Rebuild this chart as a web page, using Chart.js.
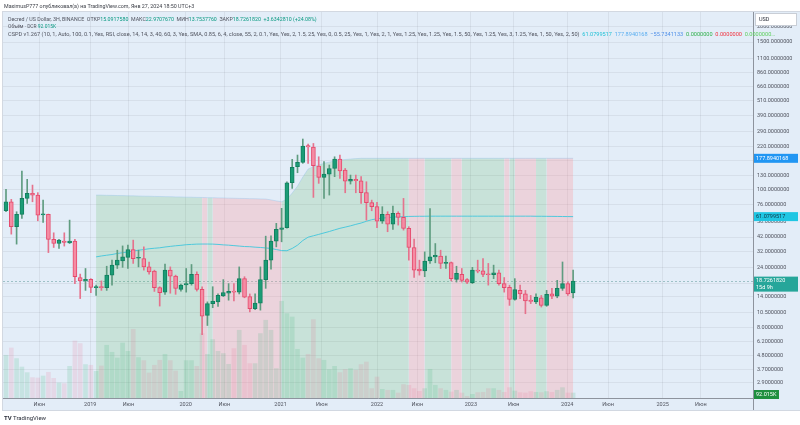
<!DOCTYPE html>
<html>
<head>
<meta charset="utf-8">
<script src="https://cdn.jsdelivr.net/npm/chart.js@4/dist/chart.umd.min.js"></script>
<style>
html, body { margin: 0; padding: 0; background: #fff; }
#wrap { position: relative; width: 800px; height: 425px; overflow: hidden; font-family: Roboto, sans-serif; }
canvas { position: absolute; left: 0; top: 0; }
.t { position: absolute; white-space: nowrap; font-size: 6px; line-height: 8px; color: #50535e; transform-origin: left center; }
.g { color: #089981; }
</style>
</head>
<body>
<div id="wrap">
<canvas id="chart" width="800" height="425"></canvas>
<div class="t" style="left:4px;top:2px;color:#3a3d45;transform:scaleX(0.89)">MaximusP777 опубликовал(а) на TradingView.com, Янв 27, 2024 18:50 UTC+3</div>
<div class="t" style="left:8px;top:15px;transform:scaleX(0.88)">Decred / US Dollar, 3H, BINANCE&nbsp; ОТКР<span class="g">15.0917580</span>&nbsp; МАКС<span class="g">22.9707670</span>&nbsp; МИН<span class="g">13.7537760</span>&nbsp; ЗАКР<span class="g">18.7261820</span>&nbsp; <span class="g">+3.6342810 (+24.08%)</span></div>
<div class="t" style="left:8px;top:22px;transform:scaleX(0.82)">Объём · DCR <span class="g">92.015K</span></div>
<div class="t" style="left:8px;top:29.5px;transform:scaleX(0.93)">CSPD v1.267 (10, 1, Auto, 100, 0.1, Yes, RSI, close, 14, 14, 3, 40, 60, 3, Yes, SMA, 0.85, 6, 4, close, 55, 2, 0.1, Yes, Yes, 2, 1.5, 25, Yes, 0, 0.5, 25, Yes, 1, Yes, 2, 1, Yes, 1.25, Yes, 1.25, Yes, 1.5, 50, Yes, 1.25, Yes, 3, 1.25, Yes, 1, 50, Yes, 2, 50)&nbsp; <span style="color:#22c1d6">61.0799517</span>&nbsp; <span style="color:#5aaef0">177.8940168</span>&nbsp; <span style="color:#4f8fe8">−55.7341133</span>&nbsp; <span style="color:#2fb04a">0.0000000</span>&nbsp; <span style="color:#f0303c">0.0000000</span>&nbsp; <span style="color:#5ccf5c">0.0000000…</span></div>
<div class="t" style="left:4px;top:414px;color:#2a2e39"><b>TV</b> TradingView</div>
</div>
<script>
const BG = '#e3edf8'

// candles
const OPEN = [
    68.0, 80.2, 50.8, 63.6, 85.3, 93.6, 90.7, 63.1, 63.6, 40.2,
    37.3, 39.0, 37.8, 39.0, 20.0, 18.8, 19.35, 16.6, 16.8, 16.6,
    20.9, 25.1, 27.15, 28.9, 33.4, 28.5, 28.3, 24.3, 22.5, 16.6,
    15.3, 22.9, 20.5, 16.1, 17.5, 17.9, 21.2, 16.1, 10.0, 12.4,
    12.8, 14.3, 15.0, 15.5, 15.3, 19.6, 14.1, 11.3, 12.5, 19.25,
    27.5, 39.0, 48.3, 49.8, 113.6, 152.6, 165.3, 224.2, 219.0, 154.5,
    125.5, 133.3, 147.7, 175.6, 143.5, 117.2, 121.0, 117.9, 94.8, 78.9,
    73.3, 56.3, 63.6, 53.3, 65.0, 60.3, 49.3, 34.7, 23.3, 22.6,
    27.15, 29.2, 29.7, 25.9, 26.3, 19.35, 21.2, 19.25, 18.2, 22.9,
    22.6, 21.3, 21.05, 21.8, 17.9, 16.7, 13.4, 15.8, 14.8, 13.2,
    12.8, 13.8, 12.0, 14.8, 14.2, 16.4, 17.9, 15.09
]
const HIGH = [
    100.7, 83.8, 66.8, 140.9, 121.0, 108.9, 94.8, 82.7, 64.0, 45.4,
    40.2, 45.4, 57.3, 40.2, 21.3, 23.6, 19.6, 17.4, 18.8, 24.6,
    27.5, 33.0, 35.7, 36.2, 39.7, 33.0, 35.1, 26.6, 22.9, 16.9,
    25.6, 24.3, 20.9, 17.7, 23.6, 25.4, 22.2, 16.9, 12.8, 16.9,
    14.8, 19.25, 17.9, 17.9, 24.3, 20.3, 14.8, 14.8, 24.3, 42.7,
    43.0, 54.0, 71.1, 115.8, 174.6, 188.9, 253.4, 231.2, 233.6, 183.0,
    167.2, 157.3, 183.0, 188.9, 147.7, 130.9, 130.9, 127.0, 115.8, 82.7,
    79.4, 73.3, 66.8, 74.1, 66.8, 85.3, 50.8, 40.4, 27.5, 32.0,
    70.8, 37.3, 33.0, 29.6, 26.6, 24.6, 23.6, 19.6, 24.1, 27.5,
    28.3, 25.9, 25.1, 22.9, 20.0, 17.4, 19.6, 17.4, 15.8, 14.4,
    14.8, 14.4, 15.8, 16.4, 19.0, 26.6, 18.4, 22.97
]
const LOW = [
    66.8, 44.3, 36.9, 59.1, 77.8, 80.2, 56.6, 55.0, 31.6, 34.7,
    34.1, 35.6, 37.3, 17.9, 13.6, 15.8, 15.15, 14.4, 15.8, 15.8,
    17.4, 23.6, 24.1, 23.6, 25.9, 24.3, 22.9, 21.3, 15.5, 11.85,
    14.7, 15.0, 14.7, 15.6, 15.3, 17.4, 15.6, 7.0, 8.3, 11.5,
    11.8, 14.1, 13.2, 13.0, 14.8, 13.8, 10.65, 11.1, 11.0, 16.4,
    23.3, 35.1, 38.5, 49.4, 102.5, 136.6, 162.3, 162.3, 86.9, 112.4,
    85.3, 90.7, 127.0, 123.2, 94.6, 111.0, 94.6, 77.8, 57.3, 68.0,
    49.8, 54.0, 46.3, 48.3, 52.3, 47.7, 27.5, 20.0, 20.9, 20.3,
    25.9, 26.2, 23.6, 23.6, 18.8, 18.4, 18.4, 17.9, 17.9, 21.8,
    20.3, 17.4, 19.6, 17.4, 15.3, 12.0, 13.2, 13.6, 10.3, 12.4,
    12.4, 11.65, 11.8, 13.6, 13.8, 15.8, 14.4, 13.75
]
const CLOSE = [
    80.2, 50.8, 63.6, 85.3, 93.6, 90.7, 62.8, 64.0, 40.2, 37.3,
    39.7, 38.1, 39.0, 20.3, 18.8, 19.35, 16.7, 16.8, 16.6, 20.9,
    25.1, 27.5, 29.2, 33.4, 28.3, 28.9, 24.3, 22.2, 16.6, 15.15,
    22.9, 20.5, 16.4, 17.4, 17.9, 21.2, 16.1, 9.87, 12.4, 13.0,
    14.4, 15.2, 15.5, 15.3, 19.6, 13.95, 11.3, 12.5, 19.25, 27.5,
    39.0, 48.3, 49.8, 113.6, 150.8, 165.3, 222.9, 219.0, 155.3, 125.5,
    133.3, 147.7, 175.6, 141.0, 117.2, 121.0, 117.9, 94.8, 78.9, 73.3,
    56.3, 63.6, 53.3, 65.0, 60.3, 49.3, 34.7, 22.9, 22.6, 27.0,
    29.2, 30.1, 25.9, 26.3, 19.6, 21.6, 19.0, 18.4, 22.9, 22.5,
    21.2, 21.05, 21.8, 17.9, 16.6, 13.4, 16.0, 14.8, 13.0, 12.9,
    13.95, 12.0, 14.7, 14.2, 16.4, 17.9, 14.8, 18.73
]
// volume, thousands DCR
const VOLUME = [
    786, 920, 725, 570, 467, 375, 368, 405, 473, 362,
    276, 265, 583, 1049, 1001, 615, 602, 491, 589, 970,
    841, 736, 1012, 859, 1264, 743, 688, 460, 602, 694,
    804, 688, 497, 123, 688, 688, 583, 1185, 804, 1075,
    859, 817, 620, 909, 1246, 970, 633, 633, 1185, 1430,
    1246, 541, 1779, 1553, 1490, 896, 736, 804, 1443, 725,
    694, 523, 583, 467, 523, 541, 510, 615, 662, 173,
    386, 160, 142, 142, 92, 247, 234, 173, 123, 173,
    528, 234, 173, 142, 110, 142, 92, 31, 68, 99,
    105, 173, 173, 142, 105, 191, 129, 99, 92, 118,
    105, 99, 118, 105, 142, 191, 92, 92.015
]

// indicator lines start at candle 17
const BAND_START = 17
const MA = [
    29.2, 29.7, 30.1, 30.5, 31.1, 31.5, 32.0, 32.5, 33.0, 33.4,
    33.9, 34.2, 34.5, 35.0, 35.4, 35.8, 36.1, 36.5, 36.7, 36.9,
    36.95, 36.95, 36.9, 36.7, 36.4, 36.2, 35.9, 35.6, 35.3, 35.2,
    34.9, 34.7, 34.4, 34.1, 33.4, 32.8, 32.7, 34.1, 36.2, 39.4,
    41.9, 43.0, 44.1, 45.3, 46.5, 47.9, 49.3, 50.4, 51.6, 53.0,
    54.3, 56.1, 57.7, 58.7, 59.5, 59.9, 60.5, 60.9, 61.1, 61.3,
    61.4, 61.5, 61.5, 61.6, 61.6, 61.6, 61.6, 61.6, 61.6, 61.6,
    61.6, 61.6, 61.6, 61.6, 61.6, 61.6, 61.6, 61.6, 61.6, 61.6,
    61.6, 61.6, 61.6, 61.5, 61.5, 61.4, 61.35, 61.3, 61.2, 61.15,
    61.08
]
const UPPER = [
    90.7, 90.6, 90.3, 90.2, 89.9, 89.8, 89.5, 89.4, 89.1, 88.9,
    88.8, 88.5, 88.4, 88.1, 88.0, 87.7, 87.6, 87.3, 87.2, 86.9,
    86.8, 86.5, 86.4, 86.1, 86.0, 85.7, 85.6, 85.3, 85.2, 84.9,
    84.8, 84.5, 84.3, 83.0, 81.5, 80.2, 84.2, 94.1, 106.9, 126.2,
    146.2, 152.6, 157.3, 162.3, 165.9, 169.9, 172.4, 174.0, 175.6, 176.9,
    177.89, 177.89, 177.89, 177.89, 177.89, 177.89, 177.89, 177.89, 177.89, 177.89,
    177.89, 177.89, 177.89, 177.89, 177.89, 177.89, 177.89, 177.89, 177.89, 177.89,
    177.89, 177.89, 177.89, 177.89, 177.89, 177.89, 177.89, 177.89, 177.89, 177.89,
    177.89, 177.89, 177.89, 177.89, 177.89, 177.89, 177.89, 177.89, 177.89, 177.89,
    177.89
]
const ZONE = (
    'gggggggggggggggggggg' + 'r' + 'g' + 'rrrrrrrrrrrrr' +
    'gggggggggggggggggggggggg' + 'rrr' + 'ggggg' + 'rr' + 'gggggggg' +
    'r' + 'g' + 'rrrr' + 'gg' + 'rrrrrr'
).split('')

const Y_TICKS = [2.9, 3.7, 4.8, 6.2, 8, 10.5, 14, 18, 24, 32, 42, 56, 76, 100, 130, 170,
    220, 290, 390, 510, 660, 860, 1100, 1500, 2000]
const X_TICK_POS = [6.3, 15.9, 23.1, 33.9, 41.2, 51.8, 59.6, 70.0, 77.6, 87.7, 95.8, 105.9, 113.6, 123.9, 131.1]
const X_TICK_LABELS = ['Июн', '2019', 'Июн', '2020', 'Июн', '2021', 'Июн', '2022', 'Июн', '2023',
    'Июн', '2024', 'Июн', '2025', 'Июн']

const ZONE_COLORS = { g: 'rgba(76,175,80,0.18)', r: 'rgba(255,143,148,0.28)' }
const up = i => CLOSE[i] >= OPEN[i]
const font_small = { family: 'Roboto, sans-serif', size: 5.5 }

const backdrop = {
    id: 'backdrop',
    beforeDraw(chart) {
        const ctx = chart.ctx
        ctx.save()
        ctx.fillStyle = '#ffffff'
        ctx.fillRect(0, 0, 800, 425)
        ctx.fillStyle = BG
        ctx.fillRect(3, 12, 797, 398)
        ctx.strokeStyle = '#d2d8e1'
        ctx.lineWidth = 1
        ctx.strokeRect(2.5, 11.5, 798, 399)
        ctx.restore()
    },
    beforeDatasetsDraw(chart) {
        const ctx = chart.ctx
        const y = Math.round(chart.scales.y.getPixelForValue(CLOSE[CLOSE.length - 1])) + 0.5
        ctx.save()
        ctx.strokeStyle = 'rgba(90,150,150,0.5)'
        ctx.setLineDash([2, 2])
        ctx.beginPath()
        ctx.moveTo(chart.chartArea.left, y)
        ctx.lineTo(chart.chartArea.right, y)
        ctx.stroke()
        ctx.restore()
    },
    afterDraw(chart) {
        const ctx = chart.ctx
        const ys = chart.scales.y
        ctx.save()
        ctx.strokeStyle = '#8d939d'
        ctx.beginPath()
        ctx.moveTo(753.5, 12)
        ctx.lineTo(753.5, 410)
        ctx.stroke()

        ctx.fillStyle = '#ffffff'
        ctx.fillRect(755, 13, 42, 13)
        ctx.strokeStyle = '#c9ced6'
        ctx.strokeRect(755.5, 13.5, 41, 12)
        ctx.font = '5.5px Roboto, sans-serif'
        ctx.textBaseline = 'middle'
        ctx.fillStyle = '#2a2e39'
        ctx.fillText('USD', 759, 19.5)

        const badge = (yc, lines, bg, fg, w) => {
            const h = lines.length === 1 ? 9 : 15
            ctx.fillStyle = bg
            ctx.fillRect(754, yc - 4.5, w, h)
            ctx.fillStyle = fg
            lines.forEach((t, k) => ctx.fillText(t, 756, yc + k * 6.5))
        }
        badge(ys.getPixelForValue(177.8940168), ['177.8940168'], '#2196f3', '#ffffff', 44)
        badge(ys.getPixelForValue(61.0799517), ['61.0799517'], '#1fc6e3', '#113344', 44)
        badge(ys.getPixelForValue(18.726182), ['18.7261820', '15d 9h'], '#26a69a', '#ffffff', 44)
        badge(394.5, ['92.015K'], '#1f8f3f', '#ffffff', 25)
        ctx.restore()
    }
}

const chart = new Chart('chart', {
    type: 'bar',
    data: {
        datasets: [
            {
                type: 'bar',
                data: OPEN.map((o, i) => ({ x: i, y: [o, CLOSE[i]] })),
                backgroundColor: OPEN.map((_, i) => up(i) ? '#1b9c76' : '#f58ca4'),
                borderColor: OPEN.map((_, i) => up(i) ? '#12805f' : '#e44a6c'),
                borderWidth: 1,
                borderSkipped: false,
                barThickness: 4,
                minBarLength: 1,
                grouped: false,
                order: 1,
                yAxisID: 'y'
            },
            {
                type: 'bar',
                data: LOW.map((l, i) => ({ x: i, y: [l, HIGH[i]] })),
                backgroundColor: OPEN.map((_, i) => up(i) ? '#5f9c80' : '#e5738d'),
                borderWidth: 0,
                barThickness: 1,
                grouped: false,
                order: 2,
                yAxisID: 'y'
            },
            {
                type: 'line',
                data: MA.map((v, k) => ({ x: k + BAND_START, y: v })),
                borderColor: '#4fc9dc',
                borderWidth: 1,
                pointRadius: 0,
                fill: false,
                order: 3,
                yAxisID: 'y'
            },
            {
                type: 'bar',
                data: VOLUME.map((v, i) => ({ x: i, y: v })),
                backgroundColor: VOLUME.map((_, i) => up(i) ? 'rgba(60,175,120,0.17)' : 'rgba(235,90,130,0.14)'),
                borderWidth: 0,
                barThickness: 4,
                grouped: false,
                order: 4,
                yAxisID: 'yv'
            },
            {
                type: 'line',
                data: UPPER.map((v, k) => ({ x: k + BAND_START, y: v })),
                borderColor: 'rgba(150,195,235,0.4)',
                borderWidth: 1,
                pointRadius: 0,
                fill: 'start',
                backgroundColor: ZONE_COLORS.g,
                segment: {
                    backgroundColor: ctx => ZONE_COLORS[ZONE[ctx.p0DataIndex]]
                },
                order: 5,
                yAxisID: 'y'
            }
        ]
    },
    options: {
        responsive: false,
        animation: false,
        layout: { padding: { left: 3, top: 12, right: 0, bottom: 0 } },
        plugins: { legend: { display: false }, tooltip: { enabled: false } },
        scales: {
            x: {
                type: 'linear',
                position: 'bottom',
                min: -0.566,
                max: 140.94,
                offset: false,
                grid: { color: 'rgba(42,46,57,0.07)', drawTicks: false, offset: false },
                border: { display: true, color: '#8d939d' },
                ticks: {
                    autoSkip: false,
                    maxRotation: 0,
                    padding: 3,
                    color: '#50535e',
                    font: font_small,
                    callback: (v, i) => X_TICK_LABELS[i]
                },
                afterBuildTicks: s => { s.ticks = X_TICK_POS.map(v => ({ value: v })) },
                afterFit: s => { s.height = 27 }
            },
            y: {
                type: 'logarithmic',
                position: 'right',
                min: 2.197,
                max: 2601,
                grid: { color: 'rgba(42,46,57,0.07)', drawTicks: false },
                border: { display: false },
                ticks: {
                    autoSkip: false,
                    padding: 4,
                    color: '#50535e',
                    font: font_small,
                    callback: v => Number(v).toFixed(7)
                },
                afterBuildTicks: s => { s.ticks = Y_TICKS.map(v => ({ value: v })) },
                afterFit: s => { s.width = 47 }
            },
            yv: {
                type: 'linear',
                display: false,
                min: 0,
                max: 7100
            }
        }
    },
    plugins: [backdrop]
})
</script>
</body>
</html>
